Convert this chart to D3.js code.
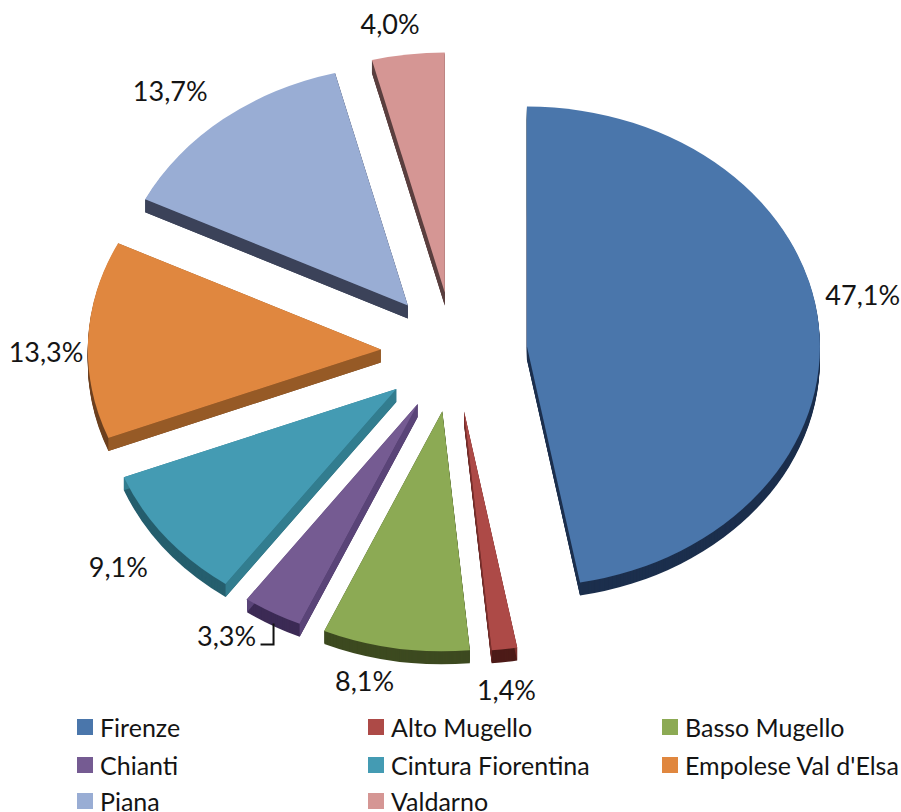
<!DOCTYPE html>
<html>
<head>
<meta charset="utf-8">
<script src="https://cdn.jsdelivr.net/npm/d3@7"></script>
<style>
  html, body { margin: 0; padding: 0; background: #fff; }
  svg { display: block; }
  text { font-family: Lato, "Open Sans", sans-serif; fill: #141414; }
</style>
</head>
<body>
<script>
const WIDTH = 901;
const HEIGHT = 812;

//the data
const categories = ["Firenze", "Alto Mugello", "Basso Mugello", "Chianti", "Cintura Fiorentina", "Empolese Val d'Elsa", "Piana", "Valdarno"];
const values = [47.1, 1.4, 8.1, 3.3, 9.1, 13.3, 13.7, 4.0];

//slice colours: top face, outer rim, cut faces
const topColors = ["#4a76ab", "#ad4a47", "#8caa54", "#755b92", "#449bb3", "#e0873f", "#99add4", "#d59694"];
const rimColors = ["#1c2f4d", "#4d1b18", "#3d4a20", "#3c2b55", "#265f6e", "#6e4220", "#3b4259", "#5a3f3f"];
const cutColors = ["#1c2f4d", "#7a2f2c", "#3d4a20", "#5a4478", "#327d8f", "#965a26", "#3b4259", "#5a3f3f"];

//pie geometry (the chart is drawn squashed, as the perspective of the original)
const CENTER_X = 454;
const CENTER_Y = 352;
const RADIUS = 240;
const STRETCH_X = 293 / 240;
const EXPLODE = 0.25;
const DEPTH = 13;

//label shift from the outer middle of each slice
const labelNudges = [[44, -30], [2, 40], [-31, 32], [-46, 23], [-47, 30], [-42, 12], [-53, -29], [-18, -31]];

//legend grid
const LEGEND_X = [77, 368, 662];
const LEGEND_Y = [727, 765, 801];
const LEGEND_BOX = 16;

const svg = d3.select("body").append("svg")
  .attr("width", WIDTH)
  .attr("height", HEIGHT);

const pie = d3.pie().sort(null).startAngle(0).endAngle(2 * Math.PI);
const slices = pie(values);
const arc = d3.arc().innerRadius(0).outerRadius(RADIUS);
const midAngle = d => (d.startAngle + d.endAngle) / 2;
const percent = v => d3.format(".1f")(v).replace(".", ",") + "%";

//where the tip of an exploded slice goes
const tipOf = d => {
  const [x, y] = d3.pointRadial(midAngle(d), RADIUS * EXPLODE);
  return [x * STRETCH_X, y];
};

//the slices
const renderSlices = () => {
  const groups = svg.selectAll("g.slice").data(slices).enter().append("g")
    .attr("class", "slice")
    .attr("transform", d => {
      const [x, y] = tipOf(d);
      return "translate(" + (CENTER_X + x) + "," + (CENTER_Y + y) + ") scale(" + STRETCH_X + ",1)";
    });

  //the rim: same wedge repeated downwards
  groups.each(function (d, i) {
    d3.select(this).selectAll("path.rim").data(d3.range(DEPTH, 0, -1)).enter().append("path")
      .attr("class", "rim")
      .attr("d", arc(d))
      .attr("transform", s => "translate(0," + s + ")")
      .attr("fill", rimColors[i]);

    //the cut faces
    [d.startAngle, d.endAngle].forEach(a => {
      const [x, y] = d3.pointRadial(a, RADIUS);
      d3.select(this).append("path")
        .attr("d", d3.line()([[0, 0], [x, y], [x, y + DEPTH], [0, DEPTH]]) + "Z")
        .attr("fill", cutColors[i]);
    });
  });

  groups.append("path")
    .attr("d", d => arc(d))
    .attr("fill", (d, i) => topColors[i]);
};

//the percentages
const labelPosition = (d, i) => {
  const [x, y] = d3.pointRadial(midAngle(d), RADIUS * (1 + EXPLODE));
  return [CENTER_X + x * STRETCH_X + labelNudges[i][0], CENTER_Y + y + labelNudges[i][1]];
};

const renderLabels = () => {
  svg.selectAll("text.value").data(slices).enter().append("text")
    .attr("class", "value")
    .attr("x", (d, i) => labelPosition(d, i)[0])
    .attr("y", (d, i) => labelPosition(d, i)[1])
    .attr("text-anchor", "middle")
    .attr("dominant-baseline", "central")
    .attr("font-size", 27)
    .text(d => percent(d.value));

  //leader line of the Chianti label
  const [lx, ly] = labelPosition(slices[3], 3);
  svg.append("path")
    .attr("d", d3.line()([[lx + 34, ly + 9], [lx + 47, ly + 9], [lx + 47, ly - 12]]))
    .attr("fill", "none")
    .attr("stroke", "#111")
    .attr("stroke-width", 2);
};

//the legend
const renderLegend = () => {
  const items = svg.selectAll("g.legend").data(categories).enter().append("g")
    .attr("class", "legend")
    .attr("transform", (d, i) => "translate(" + LEGEND_X[i % 3] + "," + LEGEND_Y[Math.floor(i / 3)] + ")");

  items.append("rect")
    .attr("y", -LEGEND_BOX / 2)
    .attr("width", LEGEND_BOX)
    .attr("height", LEGEND_BOX)
    .attr("fill", (d, i) => topColors[i]);

  items.append("text")
    .attr("x", 23)
    .attr("dominant-baseline", "central")
    .attr("font-size", 25)
    .text(d => d);
};

renderSlices();
renderLabels();
renderLegend();
</script>
</body>
</html>
